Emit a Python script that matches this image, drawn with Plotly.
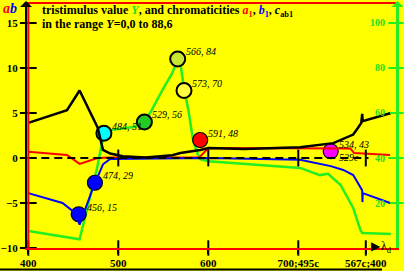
import plotly.graph_objects as go

# ---------------- data ----------------
x_ticks = [400, 500, 600, 700, 775]
x_ticktext = ["400", "500", "600", "700;495c", "567c;400"]
ab_ticks = [-10, -5, 0, 5, 10, 15]
Y_ticks = [20, 40, 60, 80, 100]
zero_tick_lam = [500, 600, 700, 775]

# tristimulus value Y (right axis)
lam_Y = [400, 457, 476, 484, 491, 517, 530, 536, 549, 560, 566, 569, 573, 578, 583,
         588, 591, 600, 702, 724, 733, 747, 761, 769, 771, 803]
Y_val = [7.6, 3.9, 34.7, 51, 52.4, 53.8, 57, 60.4, 70.2, 77.8, 84, 82, 71, 61, 48,
         42, 39.5, 38.5, 35.6, 32.4, 33.0, 28, 17.8, 8, 6.7, 6.2]

# chromaticity a1
lam_a = [400, 443, 457, 477, 491, 590, 600, 758, 762, 802]
a1 = [0.7, 0.33, -0.65, 0.0, 0.05, 0.05, 1.1, 1.05, 0.55, 0.33]

# chromaticity b1
lam_b = [400, 438, 452, 457, 472, 483, 491, 600, 702, 736, 750, 761, 764, 771, 771.3, 771.6, 802]
b1 = [-3.9, -5.0, -6.1, -7.4, -3.3, -0.7, -0.1, 0.0, -0.2, -0.9, -1.33, -1.9, -2.4, -3.6, -4.9, -3.9, -5.0]

# chroma c_ab1
lam_c = [400, 443, 457, 477, 483, 491, 505, 530, 560, 569, 591, 600, 640, 702, 739,
         761, 766, 770, 771, 771.5, 803]
cab = [3.9, 5.3, 7.5, 3.4, 0.9, 0.5, 0.2, 0.05, 0.3, 0.55, 0.9, 1.1, 1.0, 1.2, 1.65,
       2.6, 3.3, 3.9, 4.9, 4.1, 5.0]

# zero reference line
lam_zero = [400, 778]
zero_val = [0, 0]

# marked colour samples
mk_lam = [456, 474, 484, 529, 566, 573, 591, 736]
mk_Y = [15, 29, 51, 56, 84, 70, 48, 43]
mk_color = ["#0000ff", "#0000ff", "#00ffff", "#22cc22", "#c8e632", "#ffff40", "#ff0000", "#ff00ff"]
mk_label = ["456, 15", "474, 29", "484, 51", "529, 56", "566, 84", "573, 70", "591, 48", "534, 43"]
mk_dashed = [True, True, False, False, False, False, True, True]
extra_label = "529c"

# ---------------- style ----------------
XR = [398.56, 808.56]
ABR = [-10, 17.11]
YR = [0, 108.44]
GREEN = "#22ee22"
GREEN_TXT = "#22dd22"
SERIF = "Liberation Serif"

fig = go.Figure()

# Y curve (base axis, right side)
fig.add_trace(go.Scatter(x=lam_Y, y=Y_val, yaxis="y", mode="lines",
                         line=dict(color=GREEN, width=2.5), hoverinfo="skip"))
# markers
fig.add_trace(go.Scatter(
    x=mk_lam, y=mk_Y, yaxis="y", mode="markers", cliponaxis=False,
    marker=dict(size=15, color=mk_color,
                line=dict(color="black", width=[1.2 if d else 2 for d in mk_dashed])),
    hoverinfo="skip"))
# right-axis crossing ticks
fig.add_trace(go.Scatter(x=[XR[1]] * len(Y_ticks), y=Y_ticks, yaxis="y", mode="markers",
                         cliponaxis=False,
                         marker=dict(symbol="line-ew-open", size=11, color=GREEN,
                                     line=dict(color=GREEN, width=2)),
                         hoverinfo="skip"))

# a1, b1, cab on left axis (overlay)
fig.add_trace(go.Scatter(x=lam_a, y=a1, yaxis="y2", mode="lines",
                         line=dict(color="#ff0000", width=2), hoverinfo="skip"))
fig.add_trace(go.Scatter(x=lam_b, y=b1, yaxis="y2", mode="lines",
                         line=dict(color="#0000ff", width=2), hoverinfo="skip"))
fig.add_trace(go.Scatter(x=lam_zero, y=zero_val, yaxis="y2", mode="lines",
                         line=dict(color="black", width=2, dash="8px,5px"), hoverinfo="skip"))
fig.add_trace(go.Scatter(x=lam_c, y=cab, yaxis="y2", mode="lines",
                         line=dict(color="black", width=2.5), hoverinfo="skip"))
# left-axis crossing ticks
fig.add_trace(go.Scatter(x=[400] * len(ab_ticks), y=ab_ticks, yaxis="y2", mode="markers",
                         cliponaxis=False,
                         marker=dict(symbol="line-ew-open", size=12, color="black",
                                     line=dict(color="black", width=2)),
                         hoverinfo="skip"))
# bottom-axis crossing ticks
fig.add_trace(go.Scatter(x=x_ticks, y=[ABR[0]] * len(x_ticks), yaxis="y2", mode="markers",
                         cliponaxis=False,
                         marker=dict(symbol="line-ns-open", size=11, color="black",
                                     line=dict(color="black", width=2)),
                         hoverinfo="skip"))
# ticks on zero line
fig.add_trace(go.Scatter(x=zero_tick_lam, y=[0] * len(zero_tick_lam), yaxis="y2", mode="markers",
                         cliponaxis=False,
                         marker=dict(symbol="line-ns-open", size=12, color="black",
                                     line=dict(color="black", width=2)),
                         hoverinfo="skip"))

ann = []
for lam, yv, lab in zip(mk_lam, mk_Y, mk_label):
    ann.append(dict(x=lam, y=yv, xref="x", yref="y", text="<i>%s</i>" % lab,
                    showarrow=False, xanchor="left", yanchor="middle", xshift=6, yshift=7,
                    font=dict(family=SERIF, size=10, color="black")))
ann.append(dict(x=mk_lam[-1], y=mk_Y[-1], xref="x", yref="y", text="<i>%s</i>" % extra_label,
                showarrow=False, xanchor="left", yanchor="middle", xshift=6, yshift=-6,
                font=dict(family=SERIF, size=10, color="black")))

# title lines
ann.append(dict(xref="paper", yref="paper", x=(40 - 27) / 369, y=(248 - 11.5) / 244,
                xanchor="left", yanchor="middle", showarrow=False,
                text="<b>tristimulus value <i><span style='color:#22dd22'>Y</span></i>, and chromaticities "
                     "<i><span style='color:#ff0000'>a</span></i><sub><span style='color:#ff0000'>1</span></sub>, "
                     "<i><span style='color:#0000ff'>b</span></i><sub><span style='color:#0000ff'>1</span></sub>, "
                     "<i>c</i><sub>ab1</sub></b>",
                font=dict(family=SERIF, size=12, color="black")))
ann.append(dict(xref="paper", yref="paper", x=(40 - 27) / 369, y=(248 - 24.5) / 244,
                xanchor="left", yanchor="middle", showarrow=False,
                text="<b>in the range <i>Y</i>=0,0 to 88,6</b>",
                font=dict(family=SERIF, size=12, color="black")))
# "ab" axis title
ann.append(dict(xref="paper", yref="paper", x=(1 - 27) / 369, y=(248 - 9) / 244,
                xanchor="left", yanchor="middle", showarrow=False,
                text="<b><i><span style='color:#ff0000'>a</span><span style='color:#0000ff'>b</span></i></b>",
                font=dict(family=SERIF, size=14, color="black")))
# lambda_d
ann.append(dict(x=x_ticks[-1], y=ABR[0], xref="x", yref="y2", xanchor="left", yanchor="middle",
                xshift=3, yshift=1, showarrow=False,
                text="▶<span style='font-size:4px'> </span>λ<sub>d</sub>",
                font=dict(family=SERIF, size=12, color="black")))
# axis arrows at top
ann.append(dict(xref="paper", yref="paper", x=0, y=(248 - 0) / 244, xshift=-1,
                ax=0, ay=10, showarrow=True, arrowhead=1, arrowsize=1, arrowwidth=2,
                arrowcolor="black", text=""))
ann.append(dict(xref="paper", yref="paper", x=1, y=(248 - 0) / 244, xshift=1.5,
                ax=0, ay=10, showarrow=True, arrowhead=1, arrowsize=1, arrowwidth=2,
                arrowcolor=GREEN, text=""))

shapes = [
    dict(type="line", xref="x", yref="paper", x0=400, x1=400, y0=0, y1=1,
         line=dict(color="#ff0000", width=2)),
    dict(type="line", xref="paper", yref="paper", x0=-0.08, x1=(382 - 27) / 369,
         y0=(248 - 269.5) / 244, y1=(248 - 269.5) / 244, line=dict(color="black", width=2)),
]

fig.update_layout(
    width=404, height=271,
    margin=dict(l=27, r=8, t=4, b=23, pad=0, autoexpand=False),
    paper_bgcolor="#ffff00", plot_bgcolor="#ffff00",
    showlegend=False,
    xaxis=dict(range=XR, showline=True, linecolor="#ff0000", linewidth=2, mirror=True,
               tickvals=x_ticks, ticktext=x_ticktext, ticks="outside", ticklen=4,
               tickcolor="black", tickwidth=2, showgrid=False, zeroline=False,
               automargin=False,
               tickfont=dict(family=SERIF, size=11, color="black", weight="bold")),
    yaxis=dict(range=YR, side="right", showline=True, linecolor=GREEN, linewidth=3,
               tickvals=Y_ticks, ticks="inside", ticklen=6, tickcolor=GREEN, tickwidth=2,
               ticklabelposition="inside", ticklabelstandoff=4,
               showgrid=False, zeroline=False, automargin=False,
               tickfont=dict(family=SERIF, size=10, color=GREEN_TXT, weight="bold")),
    yaxis2=dict(range=ABR, side="left", overlaying="y", anchor="x", showline=True,
                linecolor="black", linewidth=2, tickvals=ab_ticks, ticks="outside",
                ticklen=5, tickcolor="black", tickwidth=2, showgrid=False, zeroline=False,
                automargin=False,
                tickfont=dict(family=SERIF, size=11, color="black", weight="bold")),
    annotations=ann,
    shapes=shapes,
)

fig.write_html("out.html",
               config={"displayModeBar": False},
               post_script="document.body.style.margin='0';"
                           "document.documentElement.style.overflow='hidden';"
                           "document.body.style.overflow='hidden';")
